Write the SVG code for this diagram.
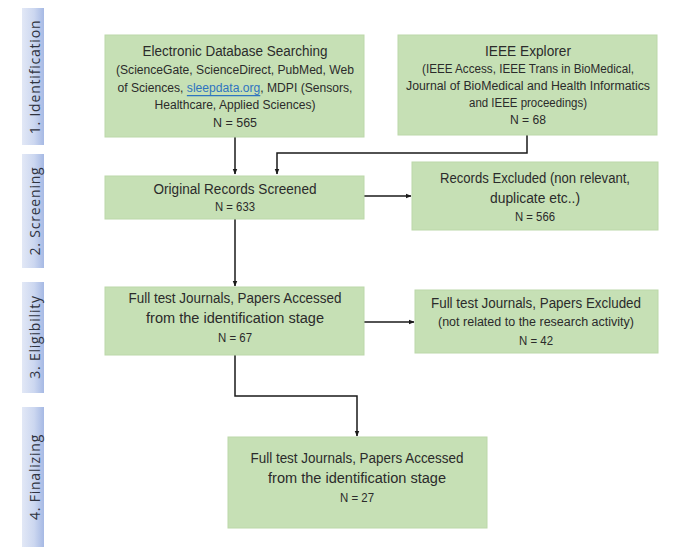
<svg xmlns="http://www.w3.org/2000/svg" width="676" height="549" viewBox="0 0 676 549">
<defs>
<linearGradient id="bar" x1="0" y1="0" x2="1" y2="0">
<stop offset="0" stop-color="#e2e8f6"/>
<stop offset="0.55" stop-color="#ccd7f0"/>
<stop offset="1" stop-color="#a6b9e4"/>
</linearGradient>
<marker id="ah" viewBox="0 0 10 10" refX="9" refY="5" markerWidth="6" markerHeight="6" orient="auto" markerUnits="userSpaceOnUse">
<path d="M0,1 L10,5 L0,9 z" fill="#1a1a1a"/>
</marker>
</defs>
<style>
.box{fill:#c6e0b5;stroke:#bcd8a9;stroke-width:1}
.t{font-family:"Liberation Sans",Arial,sans-serif;fill:#2b2b2b;text-anchor:middle;dominant-baseline:central}
.h{font-size:14px}
.s{font-size:12.5px}
.stage{fill:url(#bar)}
.st{font-family:"Open Sans","DejaVu Sans",sans-serif;font-size:14px;fill:#2f3340;text-anchor:middle;dominant-baseline:central;letter-spacing:0.8px}
.c{fill:none;stroke:#1a1a1a;stroke-width:1.5}
</style>
<rect width="676" height="549" fill="#fff"/>

<g id="stage1"><rect class="stage" x="22" y="8" width="22" height="137"/><text class="st" transform="translate(34,77) rotate(-90)">1. Identification</text></g>
<g id="stage2"><rect class="stage" x="22" y="154" width="22" height="114"/><text class="st" transform="translate(34,211) rotate(-90)">2. Screening</text></g>
<g id="stage3"><rect class="stage" x="22" y="282" width="22" height="111"/><text class="st" transform="translate(34,337) rotate(-90)">3. Eligibility</text></g>
<g id="stage4"><rect class="stage" x="22" y="407" width="22" height="140"/><text class="st" transform="translate(34,477) rotate(-90)">4. Finalizing</text></g>

<g id="connectors">
<line class="c" x1="235" y1="137" x2="235" y2="174" marker-end="url(#ah)"/>
<polyline class="c" points="527,135 527,153 277,153 277,174" marker-end="url(#ah)"/>
<line class="c" x1="364" y1="196" x2="411" y2="196" marker-end="url(#ah)"/>
<line class="c" x1="235" y1="219" x2="235" y2="286" marker-end="url(#ah)"/>
<line class="c" x1="364" y1="322" x2="414" y2="322" marker-end="url(#ah)"/>
<polyline class="c" points="235,355 235,396 357,396 357,436" marker-end="url(#ah)"/>
</g>

<g id="electronic">
<rect class="box" x="105" y="35" width="259" height="102"/>
<text class="t h" x="235" y="51" textLength="185" lengthAdjust="spacingAndGlyphs">Electronic Database Searching</text>
<text class="t s" x="235" y="70" textLength="238" lengthAdjust="spacingAndGlyphs">(ScienceGate, ScienceDirect, PubMed, Web</text>
<text class="t s" x="235" y="88" textLength="235" lengthAdjust="spacingAndGlyphs">of Sciences, <tspan fill="#2e74c0" text-decoration="underline">sleepdata.org</tspan>, MDPI (Sensors,</text>
<text class="t s" x="235" y="105" textLength="161" lengthAdjust="spacingAndGlyphs">Healthcare, Applied Sciences)</text>
<text class="t s" x="235" y="123" textLength="44" lengthAdjust="spacingAndGlyphs">N = 565</text>
</g>

<g id="ieee">
<rect class="box" x="398" y="35" width="259" height="100"/>
<text class="t h" x="528" y="51" textLength="86" lengthAdjust="spacingAndGlyphs">IEEE Explorer</text>
<text class="t s" x="528" y="69" textLength="212" lengthAdjust="spacingAndGlyphs">(IEEE Access, IEEE Trans in BioMedical,</text>
<text class="t s" x="528" y="86" textLength="244" lengthAdjust="spacingAndGlyphs">Journal of BioMedical and Health Informatics</text>
<text class="t s" x="528" y="103" textLength="118" lengthAdjust="spacingAndGlyphs">and IEEE proceedings)</text>
<text class="t s" x="528" y="120" textLength="36" lengthAdjust="spacingAndGlyphs">N = 68</text>
</g>

<g id="screened">
<rect class="box" x="105" y="176" width="259" height="43"/>
<text class="t h" x="235" y="189" textLength="163" lengthAdjust="spacingAndGlyphs">Original Records Screened</text>
<text class="t s" x="235" y="207" textLength="40" lengthAdjust="spacingAndGlyphs">N = 633</text>
</g>

<g id="excluded1">
<rect class="box" x="412" y="162" width="246" height="68"/>
<text class="t h" x="535" y="178" textLength="190" lengthAdjust="spacingAndGlyphs">Records Excluded (non relevant,</text>
<text class="t h" x="535" y="198" textLength="90" lengthAdjust="spacingAndGlyphs">duplicate etc..)</text>
<text class="t s" x="535" y="217" textLength="40" lengthAdjust="spacingAndGlyphs">N = 566</text>
</g>

<g id="accessed">
<rect class="box" x="105" y="287" width="259" height="68"/>
<text class="t h" x="235" y="298" textLength="213" lengthAdjust="spacingAndGlyphs">Full test Journals, Papers Accessed</text>
<text class="t h" x="235" y="318" textLength="178" lengthAdjust="spacingAndGlyphs">from the identification stage</text>
<text class="t s" x="235" y="338" textLength="34" lengthAdjust="spacingAndGlyphs">N = 67</text>
</g>

<g id="excluded2">
<rect class="box" x="415" y="290" width="243" height="63"/>
<text class="t h" x="536" y="303" textLength="210" lengthAdjust="spacingAndGlyphs">Full test Journals, Papers Excluded</text>
<text class="t s" x="536" y="322" textLength="196" lengthAdjust="spacingAndGlyphs">(not related to the research activity)</text>
<text class="t s" x="536" y="341" textLength="34" lengthAdjust="spacingAndGlyphs">N = 42</text>
</g>

<g id="final">
<rect class="box" x="228" y="437" width="259" height="91"/>
<text class="t h" x="357" y="458" textLength="213" lengthAdjust="spacingAndGlyphs">Full test Journals, Papers Accessed</text>
<text class="t h" x="357" y="478" textLength="178" lengthAdjust="spacingAndGlyphs">from the identification stage</text>
<text class="t s" x="357" y="498" textLength="34" lengthAdjust="spacingAndGlyphs">N = 27</text>
</g>
</svg>
